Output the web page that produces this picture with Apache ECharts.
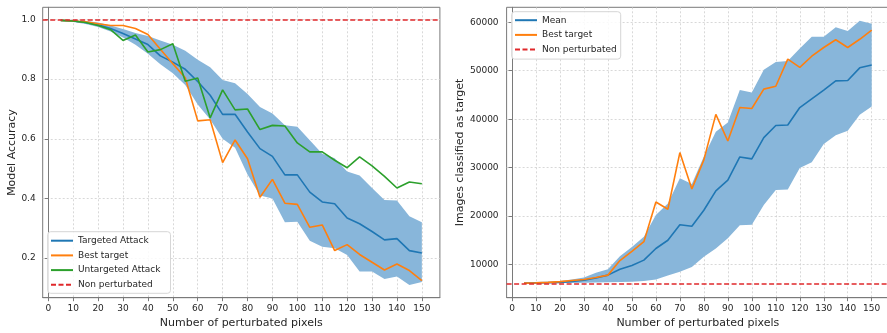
<!DOCTYPE html>
<html>
<head>
<meta charset="utf-8">
<script src="https://cdn.jsdelivr.net/npm/echarts@6/dist/echarts.min.js"></script>
<style>
html,body{margin:0;padding:0;background:#fff;}
#c{width:887px;height:333px;}
</style>
</head>
<body>
<div id="c"></div>
<script>
// ---- data ----
const pixels = [5,10,15,20,25,30,35,40,45,50,55,60,65,70,75,80,85,90,95,100,105,110,115,120,125,130,135,140,145,150];
const xTicks = [0,10,20,30,40,50,60,70,80,90,100,110,120,130,140,150];

// left chart: model accuracy
const accTargeted   = [0.997,0.995,0.99,0.982,0.97,0.953,0.935,0.916,0.878,0.857,0.833,0.792,0.746,0.682,0.682,0.623,0.567,0.541,0.479,0.479,0.421,0.388,0.382,0.334,0.315,0.289,0.261,0.265,0.225,0.217];
const accTargetedLow  = [0.996,0.992,0.985,0.975,0.96,0.94,0.915,0.885,0.85,0.82,0.78,0.715,0.665,0.60,0.57,0.48,0.41,0.40,0.32,0.322,0.258,0.238,0.233,0.21,0.155,0.155,0.13,0.138,0.11,0.12];
const accTargetedHigh = [0.998,0.997,0.995,0.99,0.98,0.968,0.955,0.945,0.93,0.915,0.895,0.865,0.84,0.797,0.786,0.75,0.707,0.685,0.645,0.64,0.595,0.55,0.535,0.49,0.477,0.435,0.395,0.393,0.34,0.32];
const accBest       = [0.997,0.995,0.992,0.986,0.98,0.98,0.97,0.95,0.9,0.852,0.805,0.66,0.664,0.52,0.596,0.533,0.404,0.464,0.384,0.38,0.303,0.311,0.225,0.245,0.212,0.186,0.16,0.18,0.158,0.124];
const accUntargeted = [0.997,0.995,0.99,0.98,0.966,0.93,0.948,0.891,0.899,0.919,0.793,0.804,0.67,0.764,0.697,0.70,0.631,0.645,0.643,0.586,0.556,0.556,0.528,0.503,0.539,0.509,0.474,0.435,0.455,0.449];
const accNonPerturbed = 1.0;
const accTicks = [0.2,0.4,0.6,0.8,1.0];

// right chart: images classified as target
const imgMean     = [6150,6200,6250,6300,6500,6750,7200,7800,9000,9800,10900,13300,15000,18200,17900,21200,25200,27400,32200,31800,36200,38700,38800,42400,44200,46000,47900,48000,50600,51200];
const imgMeanLow  = [6100,6100,6150,6150,6200,6250,6300,6350,6400,6450,6600,6900,7700,8500,9500,11600,13300,15400,18100,18200,22300,25400,25500,29900,31100,34900,36700,37600,40900,42600];
const imgMeanHigh = [6250,6300,6400,6600,6900,7300,8300,9000,11700,13600,15700,20200,22600,27800,26600,32300,37400,39300,46000,45500,50200,51800,52000,54600,57000,57000,59000,58200,60300,59700];
const imgBest     = [6150,6200,6300,6450,6700,6900,7300,7800,10800,12700,14700,22900,21400,33100,25600,31600,41000,35500,42400,42200,46200,46800,52400,50700,53000,54800,56400,54800,56500,58400];
const imgNonPerturbed = 6000;
const imgTicks = [10000,20000,30000,40000,50000,60000];

// ---- chart ----
const FONT = 'DejaVu Sans';
const TXT = '#262626';
const SPINE = '#7a7a7a';
const C_BLUE = '#1f77b4', C_ORANGE = '#ff7f0e', C_GREEN = '#2ca02c', C_RED = '#e0282b';
const BAND = '#88b6da';

const pairs = (ys) => pixels.map((x, i) => [x, ys[i]]);

function xAxisCfg(gi) {
  return {
    gridIndex: gi, type: 'value', min: -2.25, max: 157.25,
    name: 'Number of perturbated pixels', nameLocation: 'middle', nameGap: 18,
    nameTextStyle: {fontFamily: FONT, fontSize: 11, color: TXT},
    axisLine: {show: true, onZero: false, lineStyle: {color: SPINE, width: 1}},
    axisTick: {show: true, inside: false, length: 3.5, lineStyle: {color: SPINE}, customValues: xTicks},
    axisLabel: {fontFamily: FONT, fontSize: 9, color: TXT, margin: 6, customValues: xTicks},
    splitLine: {show: true, lineStyle: {color: '#cfcfcf', type: [2, 2], width: 0.8}}
  };
}
function yAxisCfg(gi, name, gap, mn, mx, ticks, fmt, margin) {
  return {
    gridIndex: gi, type: 'value', min: mn, max: mx,
    name: name, nameLocation: 'middle', nameGap: gap,
    nameTextStyle: {fontFamily: FONT, fontSize: 11, color: TXT},
    axisLine: {show: true, lineStyle: {color: SPINE, width: 1}},
    axisTick: {show: true, inside: false, length: 3.5, lineStyle: {color: SPINE}, customValues: ticks},
    axisLabel: {fontFamily: FONT, fontSize: 9, color: TXT, margin: margin, customValues: ticks, formatter: fmt},
    splitLine: {show: true, lineStyle: {color: '#cfcfcf', type: [2, 2], width: 0.8}}
  };
}
function lineSeries(name, xi, data, color, z) {
  return {
    name: name, type: 'line', xAxisIndex: xi, yAxisIndex: xi, data: data,
    symbol: 'none', showSymbol: false, z: z || 3,
    lineStyle: {color: color, width: 1.6}, itemStyle: {color: color}
  };
}
function bandSeries(xi, lo, hi) {
  return {
    type: 'custom', xAxisIndex: xi, yAxisIndex: xi, silent: true, z: 2,
    data: pixels.map((x, i) => [x, lo[i], hi[i]]),
    encode: {x: 0, y: [1, 2]},
    renderItem: function (params, api) {
      if (params.dataIndex !== 0) return null;
      const pts = [];
      for (let i = 0; i < pixels.length; i++) pts.push(api.coord([pixels[i], hi[i]]));
      for (let i = pixels.length - 1; i >= 0; i--) pts.push(api.coord([pixels[i], lo[i]]));
      return {type: 'polygon', shape: {points: pts}, style: {fill: BAND, stroke: null}};
    }
  };
}
function refSeries(xi, value) {
  return {
    name: 'Non perturbated', type: 'line', xAxisIndex: xi, yAxisIndex: xi, data: [],
    symbol: 'none', lineStyle: {color: C_RED, width: 1.5, type: [5, 2.5]}, itemStyle: {color: C_RED}, z: 4,
    markLine: {silent: true, symbol: ['none', 'none'], label: {show: false},
      lineStyle: {color: C_RED, width: 1.5, type: [5, 2.5]}, data: [{yAxis: value}]}
  };
}
function legendCfg(names, left, top, pad) {
  return {
    data: names, orient: 'vertical', left: left, top: top,
    itemWidth: 22, itemHeight: 8, itemGap: 3.7, padding: pad,
    itemStyle: {opacity: 0},
    backgroundColor: 'rgba(255,255,255,0.85)', borderColor: '#d6d6d6', borderWidth: 1, borderRadius: 3,
    textStyle: {fontFamily: FONT, fontSize: 9, color: TXT, lineHeight: 11},
    selectedMode: false
  };
}

const chart = echarts.init(document.getElementById('c'), null, {renderer: 'canvas'});
chart.setOption({
  animation: false,
  backgroundColor: '#fff',
  grid: [
    {left: 42.7, top: 7.3, right: 447.1, bottom: 35.3, show: true, borderColor: SPINE, borderWidth: 1, backgroundColor: 'transparent', containLabel: false, outerBoundsMode: 'none'},
    {left: 506.6, top: 7.3, right: -2.1, bottom: 35.3, show: true, borderColor: SPINE, borderWidth: 1, backgroundColor: 'transparent', containLabel: false, outerBoundsMode: 'none'}
  ],
  xAxis: [xAxisCfg(0), xAxisCfg(1)],
  yAxis: [
    yAxisCfg(0, 'Model Accuracy', 25, 0.067, 1.041, accTicks, v => v.toFixed(1), 7),
    yAxisCfg(1, 'Images classified as target', 37, 3140, 63100, imgTicks, v => String(Math.round(v)), 8)
  ],
  legend: [
    legendCfg(['Targeted Attack', 'Best target', 'Untargeted Attack', 'Non perturbated'], 47.7, 231.7, [3.5, 10, 3, 2.3]),
    legendCfg(['Mean', 'Best target', 'Non perturbated'], 511.7, 11.7, [3, 4, 4, 2.3])
  ],
  series: [
    bandSeries(0, accTargetedLow, accTargetedHigh),
    lineSeries('Targeted Attack', 0, pairs(accTargeted), C_BLUE),
    lineSeries('Best target', 0, pairs(accBest), C_ORANGE),
    lineSeries('Untargeted Attack', 0, pairs(accUntargeted), C_GREEN),
    refSeries(0, accNonPerturbed),
    bandSeries(1, imgMeanLow, imgMeanHigh),
    lineSeries('Mean', 1, pairs(imgMean), C_BLUE),
    lineSeries('Best target', 1, pairs(imgBest), C_ORANGE),
    refSeries(1, imgNonPerturbed)
  ]
});
</script>
</body>
</html>
